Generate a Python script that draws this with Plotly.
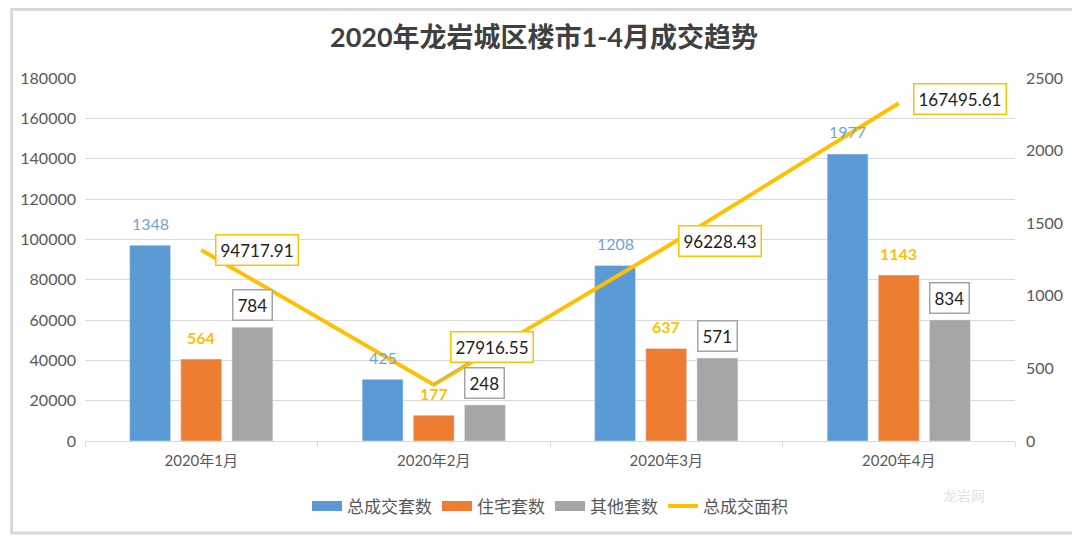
import plotly.graph_objects as go

months = ['2020年1月', '2020年2月', '2020年3月', '2020年4月']
total_sets = [1348, 425, 1208, 1977]
house_sets = [564, 177, 637, 1143]
other_sets = [784, 248, 571, 834]
total_area = [94717.91, 27916.55, 96228.43, 167495.61]

### colors ###
blue = '#5B9BD5'
orange = '#ED7D31'
gray = '#A5A5A5'
gold = '#FFC000'
txt = '#595959'
font_family = 'Lato, Noto Sans CJK SC'

fig = go.Figure()
fig.add_trace(go.Bar(name='总成交套数', x=months, y=total_sets, marker_color=blue, yaxis='y', showlegend=False))
fig.add_trace(go.Bar(name='住宅套数', x=months, y=house_sets, marker_color=orange, yaxis='y', showlegend=False))
fig.add_trace(go.Bar(name='其他套数', x=months, y=other_sets, marker_color=gray, yaxis='y', showlegend=False))
fig.add_trace(go.Scatter(name='总成交面积', x=months, y=total_area, mode='lines',
                         line=dict(color=gold, width=4), yaxis='y2', showlegend=False))

# legend entries drawn as wide blocks like the original
for name, c, w in [('总成交套数', blue, 10), ('住宅套数', orange, 10), ('其他套数', gray, 10), ('总成交面积', gold, 4)]:
    fig.add_trace(go.Scatter(name=name, x=[None], y=[None], mode='lines', yaxis='y2',
                             line=dict(color=c, width=w)))

annotations = []
for m, v in zip(months, total_sets):
    annotations.append(dict(x=m, y=v, xref='x', yref='y', text=str(v), showarrow=False,
                            xshift=-51, yshift=22, font=dict(size=16, color='#6FA3D8')))
for m, v in zip(months, house_sets):
    annotations.append(dict(x=m, y=v, xref='x', yref='y', text=f'<b>{v}</b>', showarrow=False,
                            yshift=22, font=dict(size=16, color=gold)))
for m, v in zip(months, other_sets):
    annotations.append(dict(x=m, y=v, xref='x', yref='y', text=str(v), showarrow=False,
                            xshift=51, yshift=22, font=dict(size=17, color='#222222'),
                            bgcolor='white', bordercolor='#A5A5A5', borderwidth=1.5, borderpad=4))

# line labels: offsets (pixels) for each box
offsets = [(14, 0, False), (58, -38, True), (12, 6, False), (14, 4, False)]
for m, v, (dx, dy, arrow) in zip(months, total_area, offsets):
    a = dict(x=m, y=v, xref='x', yref='y2', text=f'{v:.2f}',
             font=dict(size=17, color='#222222'),
             bgcolor='white', bordercolor=gold, borderwidth=1.5, borderpad=4)
    if arrow:
        a.update(showarrow=True, ax=dx, ay=dy, arrowhead=0, arrowwidth=1,
                 arrowcolor='#A5A5A5', standoff=0)
    else:
        a.update(showarrow=False, xanchor='left', xshift=dx, yshift=dy)
    annotations.append(a)

annotations.append(dict(text='龙岩网', x=0.97, y=-0.18, xref='paper', yref='paper', showarrow=False,
                        font=dict(size=14, color='#E3E3E3')))

# page is drawn with an 8px body margin; plot area sits at 83..1015 x 78..441 px of the window
def px_x(p):
    return (p - 83) / 932

def px_y(p):
    return (441 - p) / 363

fig.add_shape(type='rect', xref='paper', yref='paper',
              x0=px_x(9.5), x1=px_x(1077), y0=px_y(533), y1=px_y(9.5),
              line=dict(color='#D9D9D9', width=3), layer='below')

fig.update_layout(
    width=1072, height=530,
    margin=dict(l=75, r=65, t=70, b=97),
    paper_bgcolor='white', plot_bgcolor='white',
    font=dict(family=font_family, color=txt, size=14),
    title=dict(text='<b>2020年龙岩城区楼市1-4月成交趋势</b>', x=0.5, xanchor='center',
               y=0.945, yanchor='middle', font=dict(size=27, color='#404040')),
    barmode='group', bargap=0.34, bargroupgap=0.2,
    xaxis=dict(showline=True, linecolor='#D9D9D9', linewidth=1, ticks='outside',
               tickson='boundaries', ticklen=5, tickcolor='#D9D9D9', ticklabelstandoff=6,
               tickfont=dict(size=15, color=txt)),
    yaxis=dict(side='right', range=[0, 2500], dtick=500, showgrid=False, zeroline=False,
               ticklabelstandoff=10, tickfont=dict(size=16, color=txt)),
    yaxis2=dict(side='left', overlaying='y', range=[0, 180000], dtick=20000, showgrid=True,
                gridcolor='#D9D9D9', gridwidth=1, zeroline=False, tickformat='d',
                ticklabelstandoff=8, tickfont=dict(size=16, color=txt)),
    legend=dict(orientation='h', x=0.5, xanchor='center', y=-0.18, yanchor='middle',
                font=dict(size=17, color=txt), traceorder='normal'),
    annotations=annotations,
)

fig.write_html('out.html')
